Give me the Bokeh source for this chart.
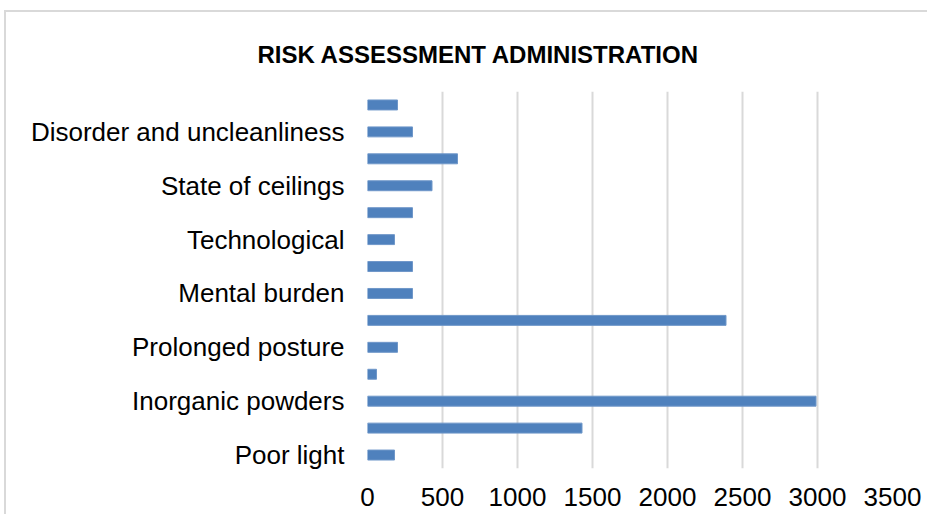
import numpy as np
from bokeh.plotting import figure
from bokeh.models import Range1d, FixedTicker
from bokeh.embed import file_html
from bokeh.resources import INLINE

# Categories bottom to top (only every other one is labelled in the reference)
tick_labels = ["Poor light", "", "Inorganic powders", "", "Prolonged posture", "",
               "Mental burden", "", "Technological", "", "State of ceilings", "",
               "Disorder and uncleanliness", ""]
values = [180, 1430, 2990, 60, 200, 2390, 300, 300, 180, 300, 430, 600, 300, 200]
x_ticks = [0, 500, 1000, 1500, 2000, 2500, 3000, 3500]
title_text = "RISK ASSESSMENT ADMINISTRATION"

ypos = list(range(len(values)))

p = figure(width=923, height=504, output_backend="svg", toolbar_location=None,
           x_range=Range1d(0, 3500), y_range=Range1d(-0.5, len(values) - 0.5),
           min_border_left=361, min_border_right=37, min_border_top=79,
           min_border_bottom=48)
p.outline_line_color = None
p.background_fill_color = "white"
p.border_fill_color = "white"
p.styles = {"border-top": "2px solid #d9d9d9", "border-left": "2px solid #d9d9d9",
            "margin-top": "10px", "margin-left": "4px"}

p.title.text = title_text
p.title.text_font = "Liberation Sans"
p.title.text_font_style = "bold"
p.title.text_font_size = "24px"
p.title.text_color = "#000000"
p.title.align = "left"
p.title.offset = -110
p.title.standoff = 48

p.hbar(y=ypos, right=values, left=0, height=0.37, fill_color="#4f81bd",
       line_color="#6f97c9", line_width=1)

p.xaxis.ticker = FixedTicker(ticks=x_ticks)
p.yaxis.ticker = FixedTicker(ticks=[i for i, t in enumerate(tick_labels) if t])
p.yaxis.major_label_overrides = {i: t for i, t in enumerate(tick_labels) if t}

for ax in (p.xaxis[0], p.yaxis[0]):
    ax.axis_line_color = None
    ax.major_tick_line_color = None
    ax.minor_tick_line_color = None
    ax.major_label_text_font = "Liberation Sans"
    ax.major_label_text_font_size = "26px"
    ax.major_label_text_color = "#000000"
p.yaxis.major_label_standoff = 17
p.xaxis.major_label_standoff = 13

p.xgrid.ticker = FixedTicker(ticks=x_ticks)
p.xgrid.grid_line_color = "#d9d9d9"
p.xgrid.grid_line_width = 2
p.ygrid.grid_line_color = None

open("out.html", "w").write(file_html(p, INLINE))
